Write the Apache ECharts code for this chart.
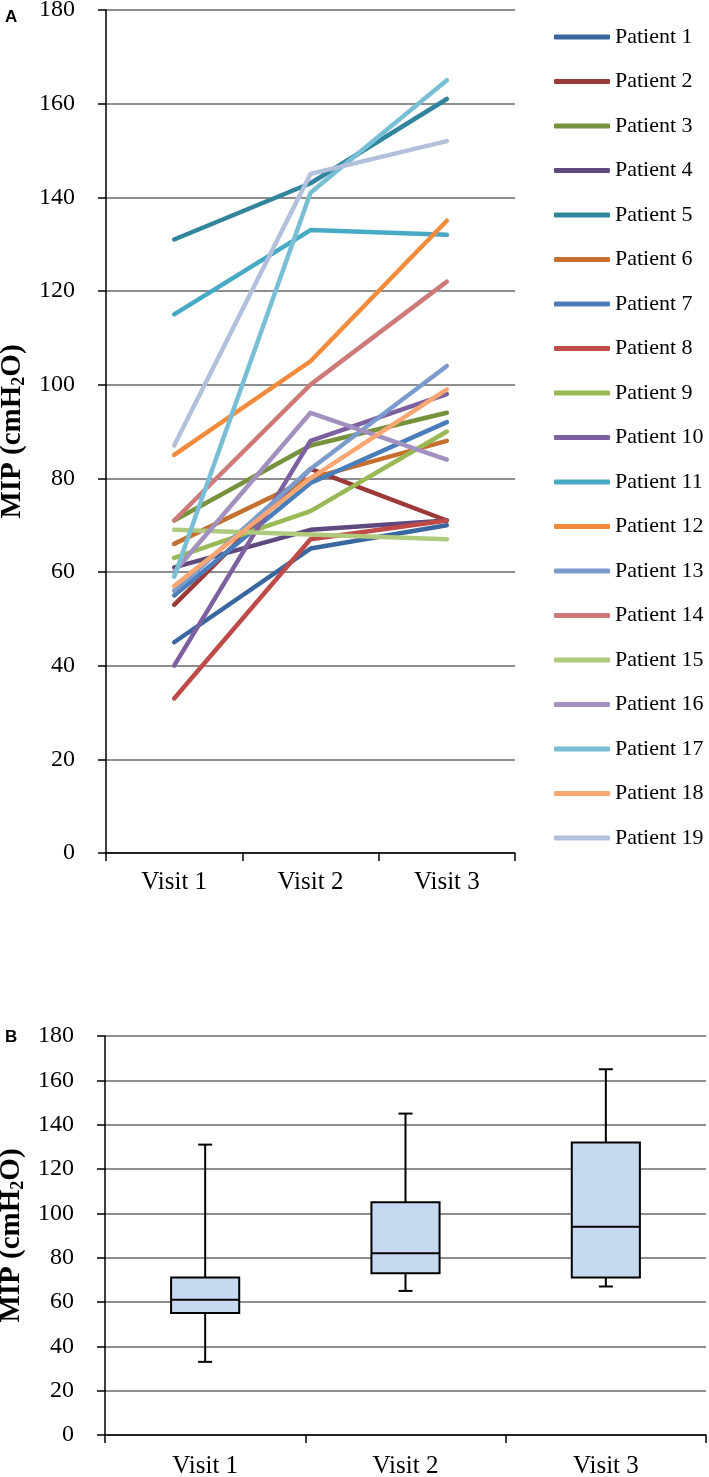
<!DOCTYPE html>
<html>
<head>
<meta charset="utf-8">
<script src="https://cdn.jsdelivr.net/npm/echarts@6/dist/echarts.min.js"></script>
<style>
html,body{margin:0;padding:0;background:#fff;}
#c{width:709px;height:1477px;}
</style>
</head>
<body>
<div id="c"></div>
<script>
// ---- data ----
var visits = ['Visit 1', 'Visit 2', 'Visit 3'];
var patients = ['Patient 1','Patient 2','Patient 3','Patient 4','Patient 5','Patient 6','Patient 7','Patient 8','Patient 9','Patient 10',
  'Patient 11','Patient 12','Patient 13','Patient 14','Patient 15','Patient 16','Patient 17','Patient 18','Patient 19'];
// MIP per patient at each visit (index = patient - 1)
var visit1 = [45, 53, 71, 61, 131, 66, 55, 33, 63, 40, 115, 85, 56, 71, 69, 60, 59, 57, 87];
var visit2 = [65, 82, 87, 69, 143, 80, 79, 67, 73, 88, 133, 105, 82, 100, 68, 94, 141, 80, 145];
var visit3 = [70, 71, 94, 71, 161, 88, 92, 71, 90, 98, 132, 135, 104, 122, 67, 84, 165, 99, 152];
var colors = ['#3B67A0','#9B3A38','#76923C','#5F4A80','#31849B','#C5702E','#4A7EBB','#BE4B48','#98B954','#7D60A0',
  '#46AAC5','#F38B3D','#7B9BCC','#CD7B7A','#AFC97D','#A290BF','#78BFD5','#F9A672','#B3C0DB'];
// box plot (panel B): min, Q1, median, Q3, max per visit
var boxMin = [33, 65, 67];
var boxQ1 = [55, 73, 71];
var boxMed = [61, 82, 94];
var boxQ3 = [71, 105, 132];
var boxMax = [131, 145, 165];
var yTicks = {min: 0, max: 180, interval: 20};

// ---- chart ----
var chart = echarts.init(document.getElementById('c'), null, {renderer: 'canvas'});
var serif = 'Liberation Serif';
var gridColor = '#8E8E8E';

function yAxisCfg(gridIndex) {
  return {
    type: 'value', gridIndex: gridIndex,
    min: yTicks.min, max: yTicks.max, interval: yTicks.interval,
    name: '{a|MIP (cmH}{s|2}{a|O)}',
    nameLocation: 'middle', nameRotate: 90, nameGap: 78, nameMoveOverlap: false,
    nameTextStyle: {
      rich: {
        a: {fontFamily: serif, fontWeight: 'bold', fontSize: 29, color: '#000'},
        s: {fontFamily: serif, fontWeight: 'bold', fontSize: 18, color: '#000', padding: [12, 0, 0, 0]}
      }
    },
    axisLine: {show: true, lineStyle: {color: '#000', width: 1.5}},
    axisTick: {show: true, length: 8, lineStyle: {color: '#000', width: 1.5}},
    axisLabel: {fontFamily: serif, fontSize: 24, color: '#000', margin: 31,
      showMinLabel: true, showMaxLabel: true, hideOverlap: false},
    splitLine: {show: true, lineStyle: {color: gridColor, width: 2}}
  };
}
function xAxisCfg(gridIndex, margin) {
  return {
    type: 'category', gridIndex: gridIndex, data: visits, boundaryGap: true,
    axisLine: {show: true, lineStyle: {color: '#000', width: 1.5}},
    axisTick: {show: true, length: 8, alignWithLabel: false, lineStyle: {color: '#000', width: 1.5}},
    axisLabel: {fontFamily: serif, fontSize: 25, color: '#000', margin: margin},
    splitLine: {show: false}
  };
}

var series = patients.map(function (p, i) {
  return {
    name: p, type: 'line', xAxisIndex: 0, yAxisIndex: 0,
    data: [visit1[i], visit2[i], visit3[i]],
    symbol: 'none', smooth: false,
    lineStyle: {color: colors[i], width: 4.5, cap: 'round', join: 'round'},
    itemStyle: {color: colors[i]},
    emphasis: {disabled: true},
    z: 2 + i * 0.01
  };
});

var boxData = visits.map(function (v, i) {
  return [i, boxMin[i], boxQ1[i], boxMed[i], boxQ3[i], boxMax[i]];
});

series.push({
  type: 'custom', xAxisIndex: 1, yAxisIndex: 1,
  data: boxData,
  encode: {x: 0, y: [1, 2, 3, 4, 5]},
  renderItem: function (params, api) {
    var xi = api.value(0);
    var pMin = api.coord([xi, api.value(1)]);
    var pQ1 = api.coord([xi, api.value(2)]);
    var pMed = api.coord([xi, api.value(3)]);
    var pQ3 = api.coord([xi, api.value(4)]);
    var pMax = api.coord([xi, api.value(5)]);
    var bw = api.size([1, 0])[0] * 0.34;
    var cw = 14;
    var cx = pMed[0];
    var st = {stroke: '#000', lineWidth: 2, fill: null};
    return {
      type: 'group',
      children: [
        {type: 'line', shape: {x1: cx, y1: pMax[1], x2: cx, y2: pQ3[1]}, style: st},
        {type: 'line', shape: {x1: cx, y1: pQ1[1], x2: cx, y2: pMin[1]}, style: st},
        {type: 'line', shape: {x1: cx - cw / 2, y1: pMax[1], x2: cx + cw / 2, y2: pMax[1]}, style: st},
        {type: 'line', shape: {x1: cx - cw / 2, y1: pMin[1], x2: cx + cw / 2, y2: pMin[1]}, style: st},
        {type: 'rect', shape: {x: cx - bw / 2, y: pQ3[1], width: bw, height: pQ1[1] - pQ3[1]},
          style: {fill: '#C6D9F0', stroke: '#000', lineWidth: 2}},
        {type: 'line', shape: {x1: cx - bw / 2, y1: pMed[1], x2: cx + bw / 2, y2: pMed[1]}, style: st}
      ]
    };
  },
  z: 5
});

chart.setOption({
  backgroundColor: '#fff',
  animation: false,
  color: colors,
  grid: [
    {left: 106, top: 10, width: 409, height: 843, containLabel: false, outerBoundsMode: 'none'},
    {left: 105, top: 1036, width: 601, height: 399, containLabel: false, outerBoundsMode: 'none'}
  ],
  xAxis: [xAxisCfg(0, 17), xAxisCfg(1, 19)],
  yAxis: [yAxisCfg(0), yAxisCfg(1)],
  legend: {
    orient: 'vertical', left: 549, top: 20,
    data: patients,
    icon: 'roundRect', itemWidth: 56, itemHeight: 5, itemGap: 20.5,
    textStyle: {fontFamily: serif, fontSize: 22, color: '#000', lineHeight: 24},
    selectedMode: false
  },
  graphic: [
    {type: 'text', left: 5, top: 9, style: {text: 'A', font: 'bold 17px "Liberation Sans", Arial', fill: '#000'}},
    {type: 'text', left: 5, top: 1029, style: {text: 'B', font: 'bold 17px "Liberation Sans", Arial', fill: '#000'}}
  ],
  series: series
});
</script>
</body>
</html>
